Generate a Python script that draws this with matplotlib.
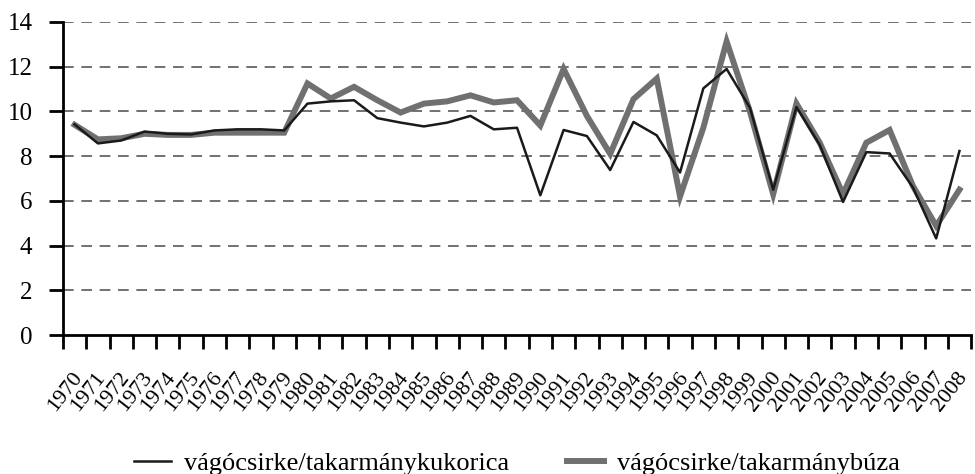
import numpy as np
import matplotlib
matplotlib.use("Agg")
import matplotlib.pyplot as plt
import matplotlib.transforms as mtransforms

plt.rcParams['font.family'] = ['Liberation Serif', 'DejaVu Serif']

years = [str(y) for y in range(1970, 2009)]

# vágócsirke/takarmánykukorica
kukorica = [9.42, 8.57, 8.7, 9.1, 9.0, 8.97, 9.15, 9.2, 9.2, 9.15,
            10.35, 10.45, 10.5, 9.7, 9.5, 9.33, 9.5, 9.8, 9.2, 9.27,
            6.25, 9.17, 8.9, 7.38, 9.53, 8.93, 7.27, 11.03, 11.9, 10.17,
            6.5, 10.2, 8.5, 5.95, 8.18, 8.12, 6.6, 4.32, 8.23]

# vágócsirke/takarmánybúza
buza = [9.4, 8.75, 8.8, 9.0, 8.95, 8.95, 9.05, 9.05, 9.05, 9.05,
        11.25, 10.58, 11.1, 10.5, 9.95, 10.35, 10.45, 10.72, 10.4, 10.5,
        9.37, 11.9, 9.8, 8.1, 10.55, 11.47, 6.2, 9.27, 13.13, 10.0,
        6.3, 10.35, 8.6, 6.3, 8.6, 9.17, 6.67, 4.88, 6.5]

fig = plt.figure(figsize=(9.75, 4.74), dpi=100)
ax = fig.add_axes([0.0646, 0.2932, 0.9314, 0.6604])

x = np.arange(len(years))
ax.plot(x, buza, color='#707070', lw=4.3, solid_joinstyle='miter',
        label='vágócsirke/takarmánybúza', zorder=3)
ax.plot(x, kukorica, color='#1a1a1a', lw=1.8,
        label='vágócsirke/takarmánykukorica', zorder=4)

ax.set_xlim(-0.5, len(years) - 0.5)
ax.set_ylim(0, 14)
ax.set_yticks(range(0, 15, 2))
for v in range(2, 15, 2):
    ax.axhline(v, color='#4a4a4a', lw=1.1, dashes=(7, 5), zorder=1)

ax.spines['top'].set_visible(False)
ax.spines['right'].set_visible(False)
ax.spines['left'].set_linewidth(2)
ax.spines['bottom'].set_linewidth(2)
ax.spines['left'].set_zorder(5)
ax.spines['bottom'].set_zorder(5)

ax.tick_params(axis='y', direction='out', length=10, width=2, pad=12, labelsize=18)

# labels at category centres, tick marks at boundaries
ax.set_xticks(x)
ax.set_xticklabels(years, rotation=52, ha='right', fontsize=16)
ax.tick_params(axis='x', which='major', length=0, pad=24)
ax.set_xticks(np.arange(-0.5, len(years), 1), minor=True)
ax.tick_params(axis='x', which='minor', direction='out', length=10, width=2)

offset = mtransforms.ScaledTranslation(12 / 100, 0, fig.dpi_scale_trans)
for lab in ax.get_xticklabels():
    lab.set_transform(lab.get_transform() + offset)

h, l = ax.get_legend_handles_labels()
ax.legend(h[::-1], l[::-1], loc='center', bbox_to_anchor=(0.5, -0.41),
          ncol=2, frameon=False, fontsize=19, handlelength=1.4,
          handletextpad=0.5, columnspacing=2.2)

fig.savefig('out.png', dpi=100)
